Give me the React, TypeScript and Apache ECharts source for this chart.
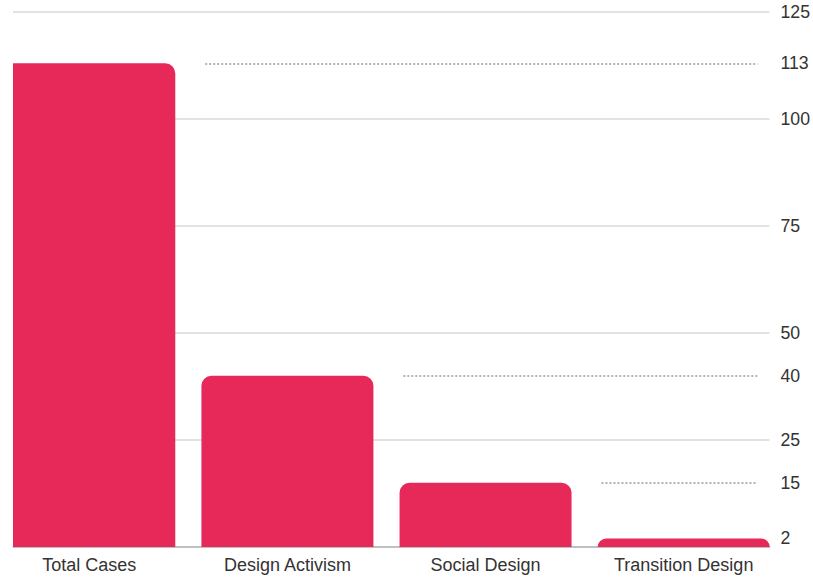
import React, { useEffect, useRef } from "react";
import * as echarts from "echarts";

const categories = ["Total Cases", "Design Activism", "Social Design", "Transition Design"];
const values = [113, 40, 15, 2];
const yTickLabels = [2, 15, 25, 40, 50, 75, 100, 113, 125];

const X_MIN = -0.385;
const X_MAX = 3.433;
const BAR_WIDTH = 172;
const BAR_COLOR = "#E62958";

export default function App() {
  const ref = useRef<HTMLDivElement>(null);
  useEffect(() => {
    if (!ref.current) return;
    const chart = echarts.init(ref.current, null, { renderer: "svg" });
    const refLines = values.slice(0, values.length - 1).map((v, i) => [
      { coord: [i + 1 - 0.415, v] },
      { coord: [X_MAX - 0.06, v] },
    ]);
    chart.setOption({
      animation: false,
      textStyle: { fontFamily: "'Liberation Sans', Arial, sans-serif" },
      grid: { left: 13, right: 43, top: 12, bottom: 31 },
      xAxis: {
        type: "value",
        min: X_MIN,
        max: X_MAX,
        splitLine: { show: false },
        axisTick: { show: false },
        axisLine: { show: true, onZero: false, lineStyle: { color: "#b5b5b5", width: 1.5 } },
        axisLabel: {
          customValues: categories.map((_, i) => i),
          formatter: (v: number) => categories[Math.round(v)] ?? "",
          color: "#333",
          fontSize: 18,
          margin: 9,
        },
      },
      yAxis: {
        type: "value",
        position: "right",
        min: 0,
        max: 125,
        interval: 25,
        axisLine: { show: false },
        axisTick: { show: false },
        splitLine: { show: true, lineStyle: { color: "#d9d9d9", width: 1.5 } },
        axisLabel: {
          customValues: yTickLabels,
          color: "#333",
          fontSize: 17.7,
          margin: 11,
        },
      },
      series: [
        {
          type: "custom",
          clip: true,
          data: values.map((v, i) => [i, v]),
          encode: { x: 0, y: 1 },
          renderItem: (params: any, api: any) => {
            const x = api.value(0);
            const v = api.value(1);
            const top = api.coord([x, v]);
            const base = api.coord([x, 0]);
            return {
              type: "rect",
              shape: {
                x: top[0] - BAR_WIDTH / 2,
                y: top[1],
                width: BAR_WIDTH,
                height: base[1] - top[1],
                r: [10, 10, 0, 0],
              },
              style: { fill: BAR_COLOR },
            };
          },
          markLine: {
            silent: true,
            symbol: ["none", "none"],
            label: { show: false },
            lineStyle: { type: [2, 2], color: "#9a9a9a", width: 1.5 },
            data: refLines,
          },
        },
      ],
    });
    return () => chart.dispose();
  }, []);
  return (
    <div
      ref={ref}
      style={{ position: "fixed", left: 0, top: 0, width: 813, height: 578, background: "#fff" }}
    />
  );
}
